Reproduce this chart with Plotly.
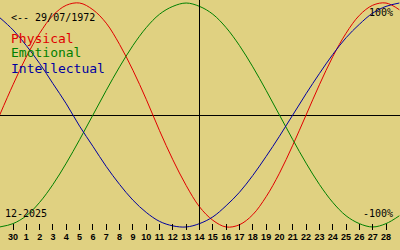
import plotly.graph_objects as go

# Days shown (index 0 = 30 Nov, then 1..28 Dec); extra points at -1 and 29 for edges
days = list(range(-1, 30))
day_labels = ["30"] + [str(d) for d in range(1, 29)]

physical = [0, 27, 52, 73, 89, 98, 100, 94, 82, 63, 40, 14, -14, -40, -63, -82,
            -94, -100, -98, -89, -73, -52, -27, 0, 27, 52, 73, 89, 98, 100, 94]
emotional = [-100, -97, -90, -78, -62, -43, -22, 0, 22, 43, 62, 78, 90, 97, 100, 97,
             90, 78, 62, 43, 22, 0, -22, -43, -62, -78, -90, -97, -100, -97, -90]
intellectual = [87, 76, 62, 46, 28, 10, -10, -28, -46, -62, -76, -87, -95, -99, -100,
                -97, -91, -81, -69, -54, -37, -19, 0, 19, 37, 54, 69, 81, 91, 97, 100]

series = [("Physical", physical, "#e00000"),
          ("Emotional", emotional, "#008000"),
          ("Intellectual", intellectual, "#0000a0")]

bg = "#e0d181"
fig = go.Figure()
for name, vals, col in series:
    fig.add_trace(go.Scatter(x=days, y=vals, mode="lines", name=name,
                             line=dict(color=col, width=1, shape="spline"),
                             hoverinfo="skip"))

fig.update_layout(
    width=400, height=250, margin=dict(l=0, r=0, t=0, b=0),
    paper_bgcolor=bg, plot_bgcolor=bg, showlegend=False,
    xaxis=dict(range=[-0.976, 29.05], showgrid=False, zeroline=False,
               showline=False, tickmode="array", tickvals=list(range(29)),
               ticktext=day_labels, ticks="inside", ticklen=6, tickwidth=1,
               tickcolor="black", tickangle=0,
               tickfont=dict(family="Liberation Sans", size=9, color="black", weight="bold")),
    yaxis=dict(range=[-102.7, 102.7], domain=[20 / 250, 1], showgrid=False,
               zeroline=True, zerolinecolor="black", zerolinewidth=1,
               showticklabels=False, ticks=""),
)

fig.add_shape(type="line", xref="x", yref="paper", x0=14, x1=14, y0=20 / 250, y1=1,
              line=dict(color="black", width=1))

mono = "DejaVu Sans Mono"
def txt(s, x, y, size, color, xanchor="left"):
    fig.add_annotation(text=s, xref="paper", yref="paper", x=x / 400, y=1 - y / 250,
                       xanchor=xanchor, yanchor="middle", showarrow=False,
                       font=dict(family=mono, size=size, color=color))

txt("<-- 29/07/1972", 9, 17, 10, "black")
txt("Physical", 9, 38, 13, "#e00000")
txt("Emotional", 9, 53, 13, "#008000")
txt("Intellectual", 9, 68, 13, "#0000a0")
txt("100%", 395, 12, 10, "black", "right")
txt("-100%", 395, 213, 10, "black", "right")
txt("12-2025", 3, 213, 10, "black")

fig.write_html("out.html")
